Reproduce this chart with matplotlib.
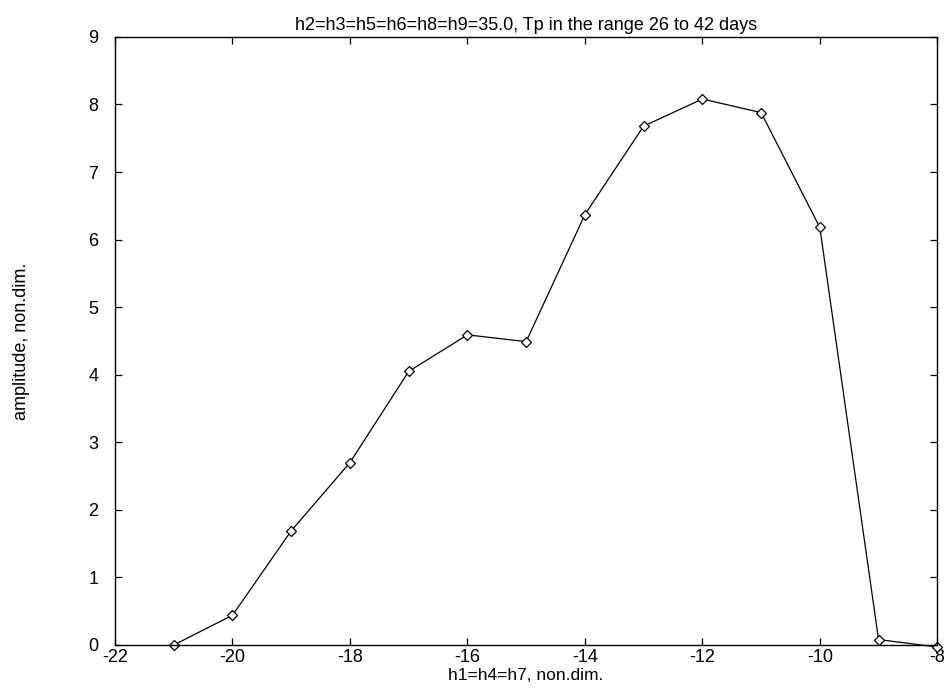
import numpy as np
import matplotlib
matplotlib.use('Agg')
import matplotlib.pyplot as plt

plt.rcParams['font.family'] = ['Liberation Sans', 'DejaVu Sans']
plt.rcParams['axes.unicode_minus'] = False

# amplitude response vs h1=h4=h7
h1 = [-21, -20, -19, -18, -17, -16, -15, -14, -13, -12, -11, -10, -9, -8]
amplitude = [0.0, 0.44, 1.69, 2.70, 4.05, 4.59, 4.49, 6.37, 7.68, 8.08, 7.88, 6.18, 0.08, -0.03]

xticks = np.arange(-22, -7, 2)
yticks = np.arange(0, 10, 1)

fig = plt.figure(figsize=(9.46, 6.91), dpi=100)
ax = fig.add_axes([0.1216, 0.0666, 0.8692, 0.880])

ax.plot(h1, amplitude, color='black', linewidth=0.9,
        marker='D', markersize=5, markerfacecolor='white',
        markeredgecolor='black', markeredgewidth=0.9, clip_on=False)

ax.set_xlim(-22, -8)
ax.set_ylim(0, 9)
ax.set_xticks(xticks)
ax.set_yticks(yticks)
ax.tick_params(direction='in', length=5, width=0.9, top=True, right=True,
               labelsize=13)
ax.tick_params(axis='y', pad=12)
ax.tick_params(axis='x', pad=3)
for s in ax.spines.values():
    s.set_linewidth(1.0)

ax.set_title('h2=h3=h5=h6=h8=h9=35.0, Tp in the range 26 to 42 days',
             fontsize=13, pad=5)
ax.set_xlabel('h1=h4=h7, non.dim.', fontsize=12.5, labelpad=1)
ax.set_ylabel('amplitude, non.dim.', fontsize=13)
ax.yaxis.set_label_coords(-0.103, 0.5)

fig.savefig('out.png', dpi=100)
